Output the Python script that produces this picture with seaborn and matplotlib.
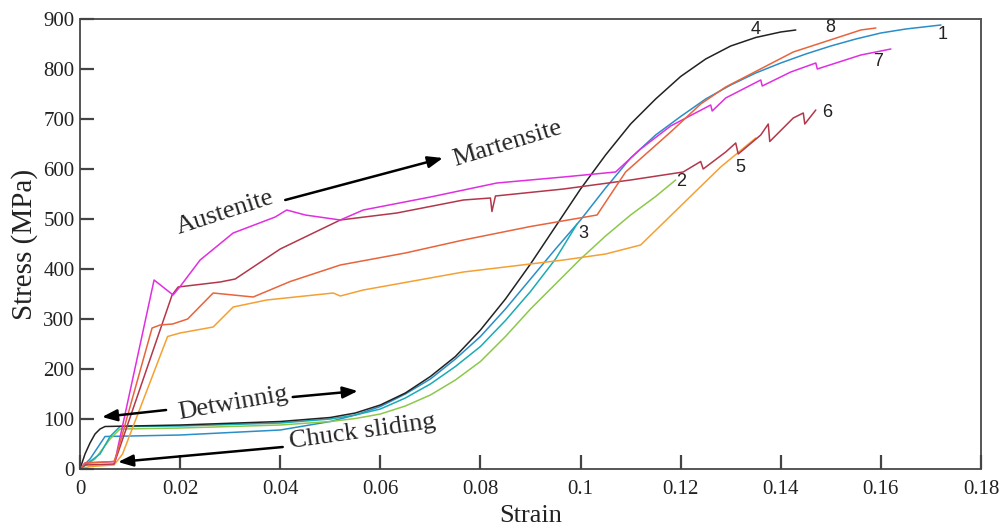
import pandas as pd
import matplotlib
matplotlib.use("Agg")
import matplotlib.pyplot as plt
import seaborn as sns

# stress-strain curves (strain, MPa)
strain_1 = [0, 0.002, 0.004, 0.005, 0.02, 0.04, 0.05, 0.055, 0.06, 0.065, 0.07, 0.075, 0.08, 0.085, 0.09, 0.095, 0.1, 0.105,
            0.11, 0.115, 0.12, 0.125, 0.13, 0.135, 0.14, 0.145, 0.15, 0.155, 0.16, 0.165, 0.172]
stress_1 = [0, 20, 50, 65, 68, 78, 95, 108, 125, 150, 180, 220, 265, 320, 380, 440, 498, 562,
            622, 668, 705, 740, 768, 792, 812, 830, 846, 860, 872, 880, 888]

strain_2 = [0, 0.003, 0.006, 0.008, 0.02, 0.04, 0.05, 0.055, 0.06, 0.065, 0.07, 0.075, 0.08, 0.085, 0.09, 0.095, 0.1, 0.105,
            0.11, 0.115, 0.119]
stress_2 = [0, 20, 60, 80, 82, 88, 95, 101, 110, 126, 148, 178, 215, 265, 320, 370, 420, 466,
            508, 545, 578]

strain_3 = [0, 0.002, 0.004, 0.006, 0.008, 0.02, 0.04, 0.05, 0.055, 0.06, 0.065, 0.07, 0.075, 0.08, 0.085, 0.09, 0.095, 0.0993]
stress_3 = [0, 15, 30, 65, 85, 86, 92, 100, 108, 120, 142, 170, 205, 245, 297, 355, 420, 490]

strain_4 = [0, 0.001, 0.002, 0.003, 0.004, 0.005, 0.02, 0.04, 0.05, 0.055, 0.06, 0.065, 0.07, 0.075, 0.08, 0.085, 0.09, 0.095,
            0.1, 0.105, 0.11, 0.115, 0.12, 0.125, 0.13, 0.135, 0.14, 0.143]
stress_4 = [0, 30, 52, 70, 80, 85, 88, 95, 103, 112, 128, 152, 185, 225, 278, 340, 410, 485,
            560, 628, 690, 740, 785, 820, 846, 863, 874, 878]

strain_5 = [0, 0.002, 0.0068, 0.0085, 0.0175, 0.02, 0.0266, 0.0306, 0.0373, 0.0506, 0.052, 0.0566, 0.0766, 0.0966, 0.105, 0.112, 0.128, 0.135]
stress_5 = [0, 5, 8, 30, 265, 272, 284, 324, 338, 352, 346, 358, 394, 418, 430, 448, 604, 662]

strain_6 = [0, 0.001, 0.0068, 0.0075, 0.0184, 0.0196, 0.028, 0.031, 0.04, 0.052, 0.0633, 0.0766, 0.082, 0.0823, 0.083, 0.0966, 0.11, 0.1205,
            0.124, 0.1245, 0.129, 0.131, 0.1315, 0.136, 0.1375, 0.1378, 0.1425, 0.1445, 0.1448, 0.147]
stress_6 = [0, 8, 10, 30, 348, 364, 374, 380, 440, 498, 512, 538, 542, 515, 546, 560, 578, 594,
            615, 600, 634, 652, 630, 668, 690, 655, 702, 712, 690, 718]

strain_7 = [0, 0.001, 0.007, 0.0075, 0.0148, 0.0186, 0.02, 0.024, 0.0306, 0.039, 0.0413, 0.045, 0.052, 0.0566, 0.07, 0.0833, 0.0966, 0.107,
            0.112, 0.118, 0.126, 0.1263, 0.129, 0.136, 0.1363, 0.142, 0.147, 0.1473, 0.156, 0.162]
stress_7 = [0, 12, 15, 40, 378, 348, 365, 418, 472, 504, 518, 508, 498, 518, 544, 572, 584, 594,
            640, 686, 728, 716, 742, 778, 766, 794, 812, 800, 828, 840]

strain_8 = [0, 0.001, 0.0068, 0.0075, 0.0144, 0.016, 0.0185, 0.0215, 0.0266, 0.0346, 0.042, 0.052, 0.065, 0.0766, 0.09, 0.1033, 0.109,
            0.118, 0.124, 0.129, 0.1425, 0.156, 0.159]
stress_8 = [0, 12, 15, 35, 282, 288, 290, 300, 352, 344, 375, 408, 432, 458, 485, 508, 594,
            674, 730, 764, 834, 878, 882]

curve_ids = ["1", "2", "3", "4", "5", "6", "7", "8"]
curve_colors = ["#2a8ec8", "#8cc84b", "#1aabb4", "#222222", "#f5a033", "#b3374a", "#e02ee0", "#e8643c"]
# label anchor (strain, stress) for each curve number
label_x = [0.1724, 0.1201, 0.1005, 0.1349, 0.1319, 0.1492, 0.1595, 0.1499]
label_y = [868, 574, 472, 878, 602, 712, 814, 882]

strains = [strain_1, strain_2, strain_3, strain_4, strain_5, strain_6, strain_7, strain_8]
stresses = [stress_1, stress_2, stress_3, stress_4, stress_5, stress_6, stress_7, stress_8]

frames = []
for cid, xs, ys in zip(curve_ids, strains, stresses):
    frames.append(pd.DataFrame({"Strain": xs, "Stress": ys, "curve": cid}))
data = pd.concat(frames, ignore_index=True)

sns.set_style("ticks")
plt.rcParams["font.family"] = ["Liberation Serif", "DejaVu Serif"]

fig = plt.figure(figsize=(10.05, 5.32), dpi=100)
ax = fig.add_axes([0.0796, 0.1184, 0.8965, 0.8459])
ax.set_axisbelow(False)

for cid, col in zip(curve_ids, curve_colors):
    sub = data[data["curve"] == cid]
    sns.lineplot(data=sub, x="Strain", y="Stress", color=col, sort=False, estimator=None,
                 linewidth=1.1, ax=ax)

for cid, lx, ly in zip(curve_ids, label_x, label_y):
    ax.text(lx, ly, cid, fontsize=13, family="Liberation Sans", ha="center", va="center", color="#222222")

ax.set_xlim(0, 0.18)
ax.set_ylim(0, 900)
ax.set_xticks([0, 0.02, 0.04, 0.06, 0.08, 0.1, 0.12, 0.14, 0.16, 0.18])
ax.set_xticklabels(["0", "0.02", "0.04", "0.06", "0.08", "0.1", "0.12", "0.14", "0.16", "0.18"])
ax.set_yticks(range(0, 901, 100))
ax.tick_params(axis="both", which="major", bottom=True, left=True, top=False, right=False,
               direction="in", length=10, width=1.6, color="#444444", labelcolor="#222222", labelsize=15)
ax.tick_params(axis="x", pad=8)
ax.tick_params(axis="y", pad=4)
for sp in ax.spines.values():
    sp.set_visible(True)
    sp.set_color("#555555")
    sp.set_linewidth(1.4)
ax.set_xlabel("Strain", fontsize=19, color="#222222", labelpad=4)
ax.set_ylabel("Stress (MPa)", fontsize=21, color="#222222", labelpad=4)

arrow = dict(arrowstyle="-|>,head_length=0.9,head_width=0.35", color="black", lw=1.8, shrinkA=0, shrinkB=0)
ax.text(0.029, 512, "Austenite", fontsize=19, rotation=18, ha="center", va="center")
ax.text(0.0855, 650, "Martensite", fontsize=19, rotation=17, ha="center", va="center")
ax.annotate("", xy=(0.0725, 622), xytext=(0.041, 538), arrowprops=arrow)
ax.text(0.0305, 132, "Detwinnig", fontsize=19, rotation=10, ha="center", va="center")
ax.annotate("", xy=(0.0044, 104), xytext=(0.0172, 118), arrowprops=arrow)
ax.annotate("", xy=(0.0555, 156), xytext=(0.0425, 144), arrowprops=arrow)
ax.text(0.0565, 74, "Chuck sliding", fontsize=19, rotation=8, ha="center", va="center")
ax.annotate("", xy=(0.0076, 14), xytext=(0.0405, 44), arrowprops=arrow)

fig.savefig("out.png", dpi=100)
